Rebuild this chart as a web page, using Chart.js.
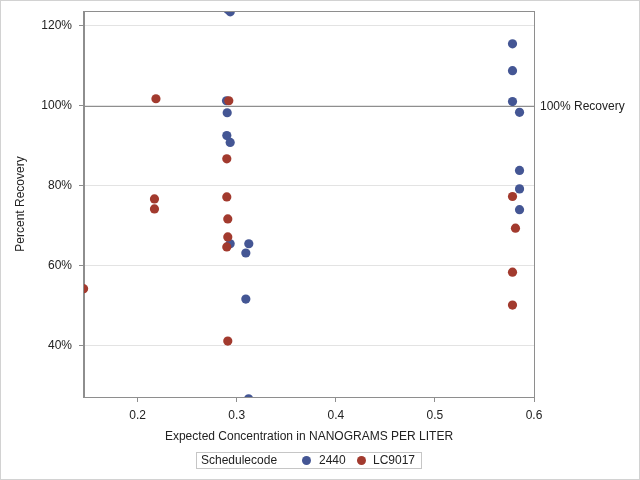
<!DOCTYPE html>
<html>
<head>
<meta charset="utf-8">
<script src="https://cdn.jsdelivr.net/npm/chart.js@4/dist/chart.umd.min.js"></script>
<style>
html,body{margin:0;padding:0;background:#fff;}
#wrap{position:relative;width:640px;height:480px;overflow:hidden;}
#c{position:absolute;left:0;top:0;}
#frame{position:absolute;left:0;top:0;width:638px;height:478px;border:1px solid #d2d2d2;pointer-events:none;}
#legend{position:absolute;left:196px;top:452px;width:224px;height:15px;border:1px solid #c6c6c6;font:12px "Liberation Sans",Arial,sans-serif;color:#222;}
#legend span{position:absolute;top:0;line-height:15px;white-space:nowrap;}
#legend i{position:absolute;top:3px;width:9px;height:9px;border-radius:50%;}
</style>
</head>
<body>
<div id="wrap">
<canvas id="c" width="640" height="480"></canvas>
<div id="frame"></div>
<div id="legend">
  <span style="left:4px">Schedulecode</span>
  <i style="left:105px;background:#445694"></i><span style="left:122px">2440</span>
  <i style="left:160px;background:#A23A2E"></i><span style="left:176px">LC9017</span>
</div>
</div>
<script>
// ---- data ----
const xTicks = [0.2, 0.3, 0.4, 0.5, 0.6];
const yTicks = [40, 60, 80, 100, 120];
const refValue = 100;
const refLabel = "100% Recovery";

const conc2440 = [0.2910, 0.2935, 0.2897, 0.2904, 0.2900, 0.2934, 0.2934, 0.3122, 0.3092, 0.3092, 0.3120,
                  0.5783, 0.5783, 0.5783, 0.5854, 0.5854, 0.5854, 0.5854];
const rec2440  = [124.0, 123.4, 101.2, 98.2, 92.5, 90.8, 65.5, 65.5, 63.2, 51.7, 26.8,
                  115.4, 108.7, 101.0, 98.3, 83.8, 79.2, 74.0];

const concLC9017 = [0.1455, 0.2185, 0.2170, 0.2170, 0.2920, 0.2900, 0.2900, 0.2910, 0.2910, 0.2900, 0.2910,
                    0.5783, 0.5813, 0.5783, 0.5783];
const recLC9017  = [54.3, 101.7, 76.7, 74.2, 101.2, 86.7, 77.2, 71.7, 67.2, 64.7, 41.2,
                    77.3, 69.4, 58.4, 50.2];

const xMin = 0.1459, xMax = 0.6;
const yMin = 27.25, yMax = 123.6;

const toPts = (xs, ys) => xs.map((x, i) => ({x: x, y: ys[i]}));

const FONT = '"Liberation Sans", Arial, sans-serif';
const AXIS = '#8e8e8e';

const framePlugin = {
  id: 'frameRef',
  afterDraw(chart) {
    const {ctx, chartArea: a, scales} = chart;
    ctx.save();
    const yp = Math.round(scales.y.getPixelForValue(refValue)) + 0.5;
    ctx.strokeStyle = AXIS;
    ctx.lineWidth = 1;
    ctx.beginPath();
    ctx.moveTo(a.left, yp);
    ctx.lineTo(a.right, yp);
    ctx.stroke();
    ctx.strokeRect(Math.round(a.left) - 0.5, Math.round(a.top) + 0.5, Math.round(a.right - a.left) + 1, Math.round(a.bottom - a.top));
    ctx.fillStyle = '#222';
    ctx.font = '12px ' + FONT;
    ctx.textBaseline = 'middle';
    ctx.textAlign = 'left';
    ctx.fillText(refLabel, a.right + 6, yp);
    ctx.restore();
  }
};

new Chart(document.getElementById('c'), {
  type: 'scatter',
  data: {
    datasets: [
      {label: '2440', data: toPts(conc2440, rec2440), backgroundColor: '#445694', borderColor: '#445694',
       pointRadius: 4.6, pointBorderWidth: 0, clip: 0, order: 2},
      {label: 'LC9017', data: toPts(concLC9017, recLC9017), backgroundColor: '#A23A2E', borderColor: '#A23A2E',
       pointRadius: 4.6, pointBorderWidth: 0, clip: 0, order: 1}
    ]
  },
  options: {
    responsive: false,
    animation: false,
    devicePixelRatio: 1,
    layout: {padding: {left: 0, right: 106, top: 11, bottom: 0}},
    plugins: {legend: {display: false}, tooltip: {enabled: false}},
    scales: {
      x: {
        type: 'linear', min: xMin, max: xMax,
        afterBuildTicks: s => { s.ticks = xTicks.map(v => ({value: v})); },
        afterFit: s => { s.height = 83; s.paddingLeft = 0; s.paddingRight = 0; },
        grid: {display: true, drawOnChartArea: false, drawTicks: true, tickLength: 5, tickColor: AXIS, color: AXIS},
        border: {display: true, color: AXIS},
        ticks: {font: {family: FONT, size: 12}, color: '#222', padding: 6, maxRotation: 0,
                callback: v => v.toFixed(1)},
        title: {display: true, text: 'Expected Concentration in NANOGRAMS PER LITER',
                font: {family: FONT, size: 12}, color: '#222', padding: {top: 0, bottom: 36}}
      },
      y: {
        type: 'linear', min: yMin, max: yMax,
        afterBuildTicks: s => { s.ticks = yTicks.map(v => ({value: v})); },
        afterFit: s => { s.width = 84; s.paddingTop = 0; s.paddingBottom = 0; },
        grid: {display: true, drawTicks: true, tickLength: 5, tickColor: AXIS, color: '#e3e3e3'},
        border: {display: true, color: AXIS},
        ticks: {font: {family: FONT, size: 12}, color: '#222', padding: 7,
                callback: v => v + '%'},
        title: {display: true, text: 'Percent Recovery',
                font: {family: FONT, size: 12}, color: '#222', padding: {top: 13, bottom: 0}}
      }
    }
  },
  plugins: [framePlugin]
});
</script>
</body>
</html>
